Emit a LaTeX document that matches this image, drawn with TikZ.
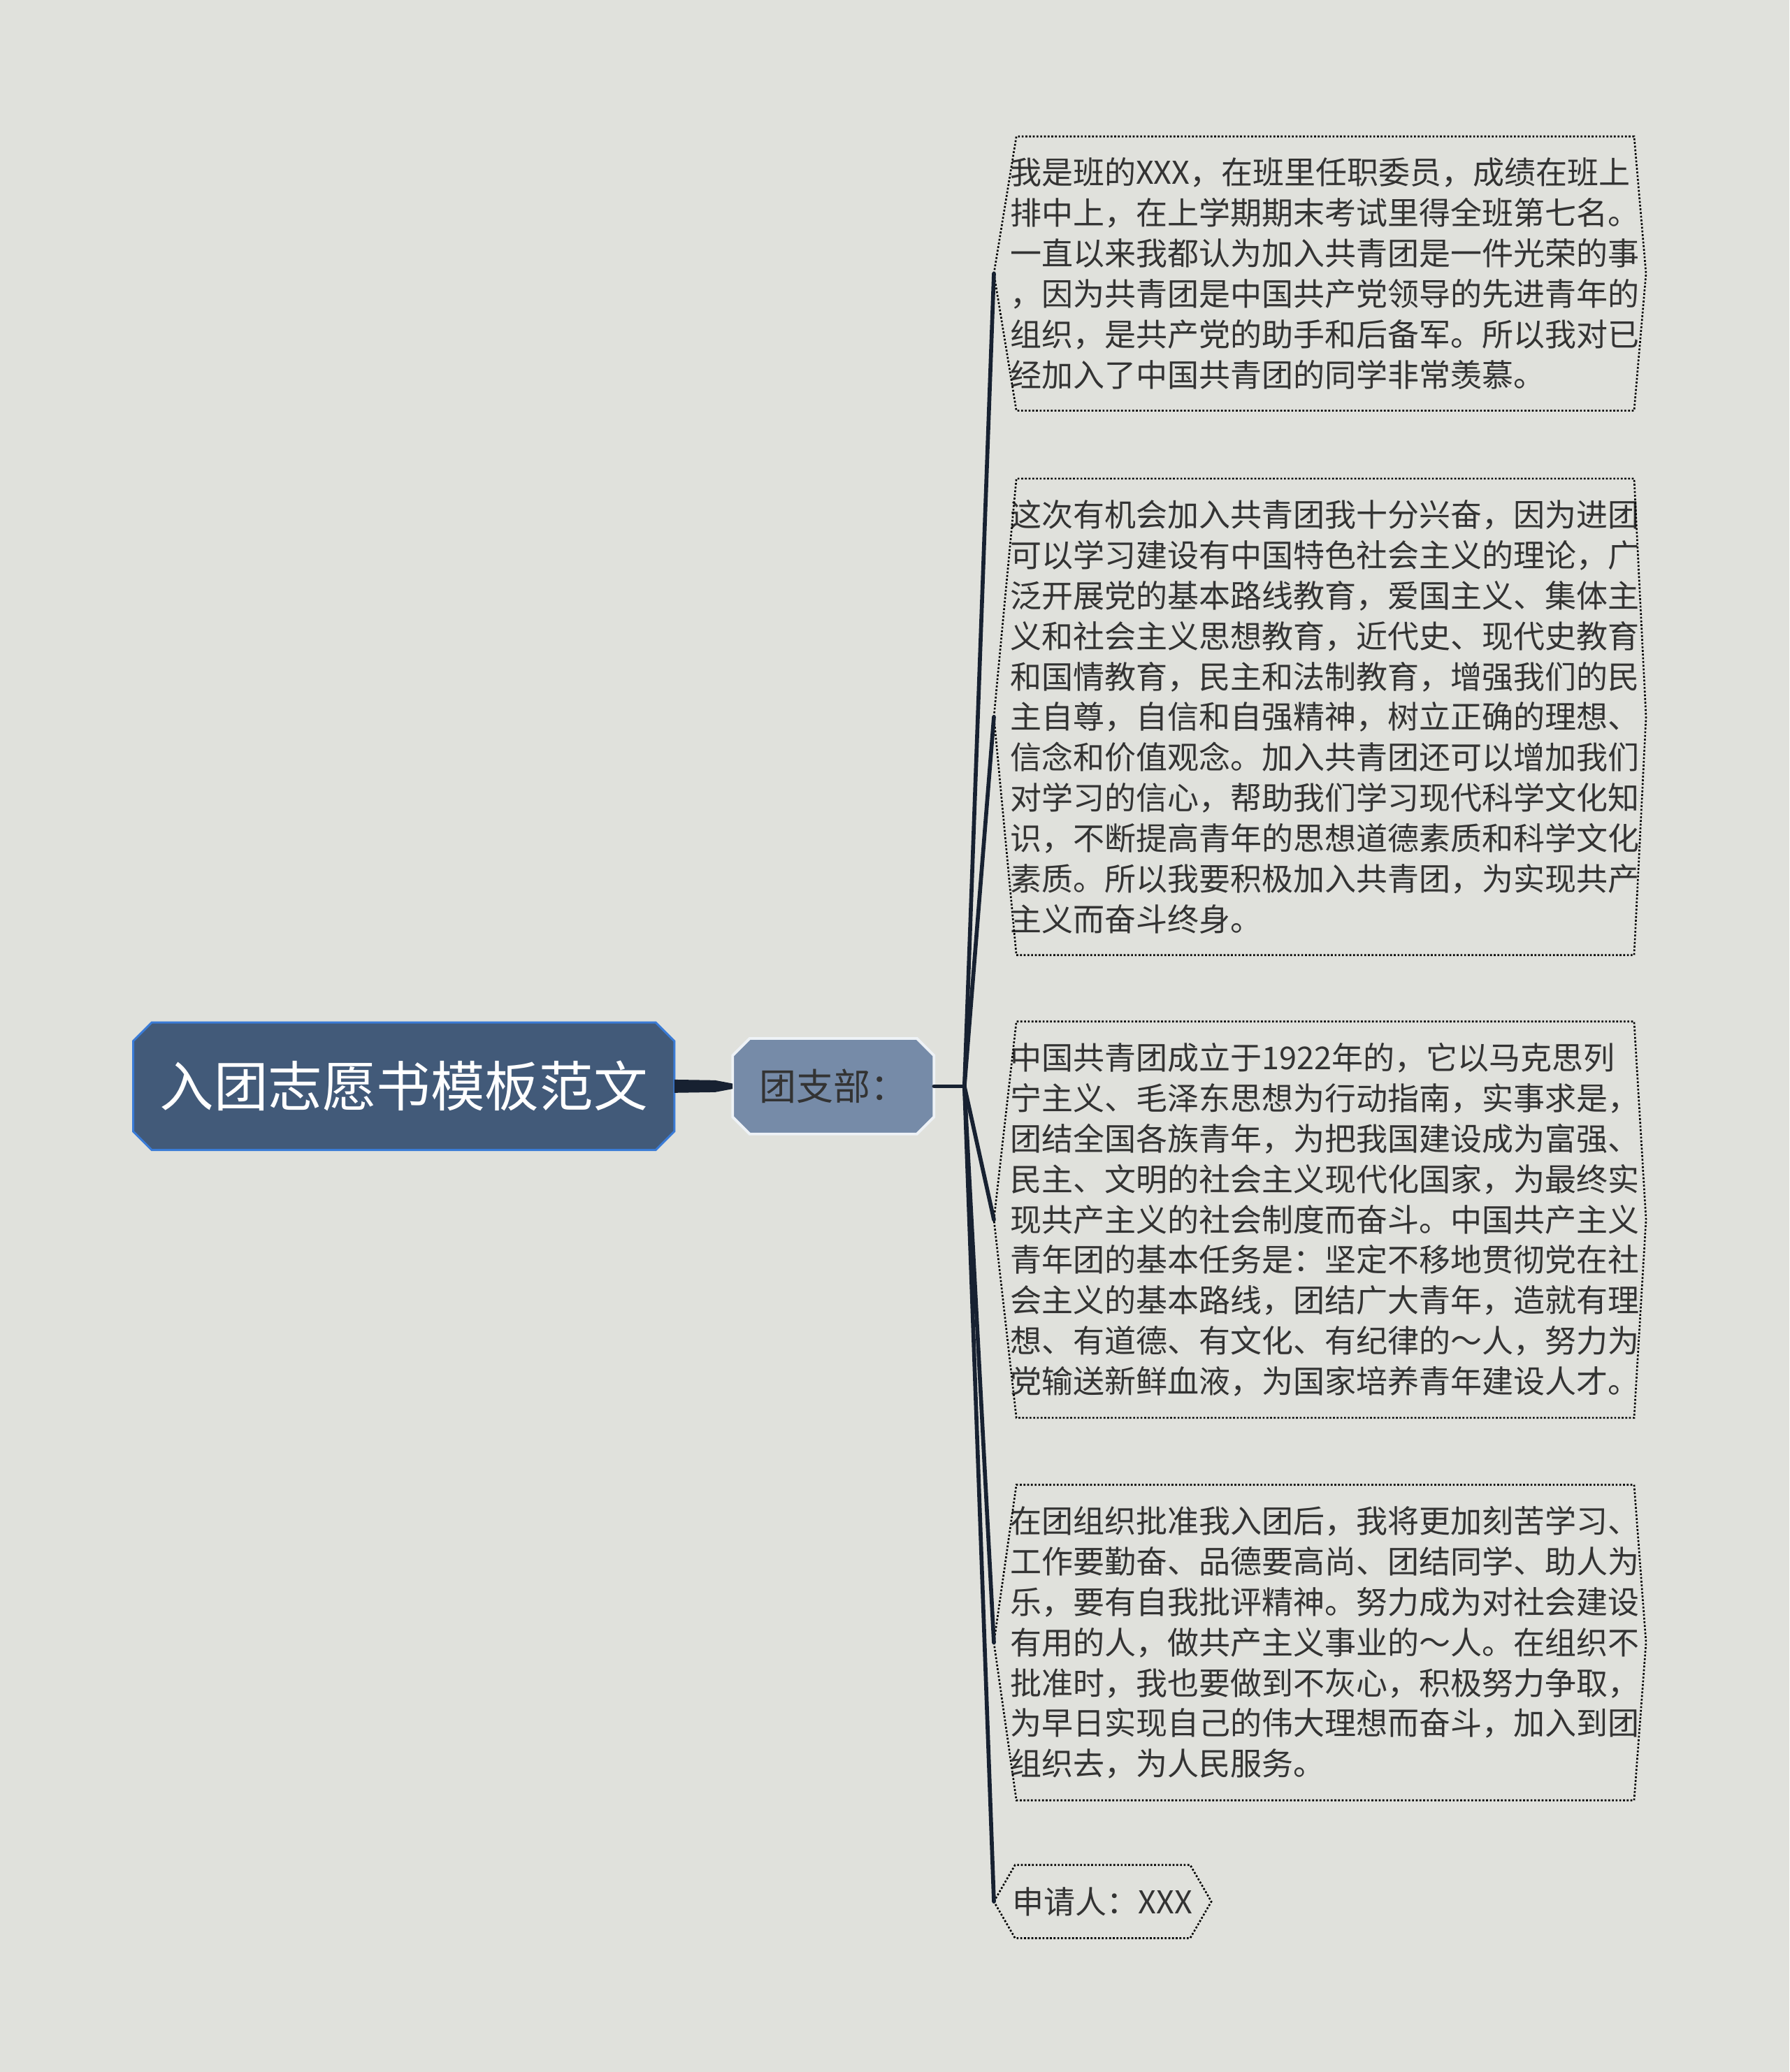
\documentclass[tikz,border=0pt]{standalone}
\usepackage{fontspec}
\setmainfont{Noto Sans CJK SC}
\usepackage{tikz}
\usetikzlibrary{backgrounds}
\usetikzlibrary{positioning,calc}
\definecolor{paper}{HTML}{E0E1DC}
\definecolor{rootfill}{HTML}{425A79}
\definecolor{rootline}{HTML}{3A7BD6}
\definecolor{subfill}{HTML}{768BA8}
\definecolor{subline}{HTML}{EEF2F6}
\definecolor{ink}{HTML}{333333}
\definecolor{branch}{HTML}{172131}
\tikzstyle{topic}=[text=white,inner sep=0pt,minimum width=409pt,minimum height=96pt,
  font=\fontsize{41}{41}\selectfont]
\tikzstyle{subtopic}=[text=ink,inner sep=0pt,minimum width=152pt,minimum height=72pt,
  font=\fontsize{28}{28}\selectfont]
\tikzstyle{topicshape}=[draw=rootline,line width=1.6pt,fill=rootfill]
\tikzstyle{subshape}=[draw=subline,line width=2pt,fill=subfill]
\tikzstyle{leaf}=[anchor=west,text=ink,text width=469pt,align=left,inner xsep=12pt,inner ysep=16pt,
  font=\fontsize{23.8}{30.6}\selectfont]
\tikzstyle{shortleaf}=[anchor=west,text=ink,inner xsep=14pt,minimum height=55pt,
  font=\fontsize{23.8}{30.6}\selectfont]
\tikzstyle{leafline}=[draw=black,line width=1.4pt,dash pattern=on 1.4pt off 1.4pt]
\tikzstyle{branchline}=[draw=branch,line width=3pt,line cap=round]

\begin{document}
\begin{tikzpicture}[x=1pt,y=-1pt]
	\useasboundingbox (0,0) rectangle (1354,1568);
	
	\node[topic] (root) at (305.5,822) {入团志愿书模板范文};
	\node[subtopic] (sub) at (630.5,822) {团支部：};
	
	\node[leaf] (l1) at (752,207) {我是班的XXX，在班里任职委员，成绩在班上\\
	排中上，在上学期期末考试里得全班第七名。\\
	一直以来我都认为加入共青团是一件光荣的事\\
	，因为共青团是中国共产党领导的先进青年的\\
	组织，是共产党的助手和后备军。所以我对已\\
	经加入了中国共青团的同学非常羡慕。};
	\node[leaf] (l2) at (752,542.5) {这次有机会加入共青团我十分兴奋，因为进团\\
	可以学习建设有中国特色社会主义的理论，广\\
	泛开展党的基本路线教育，爱国主义、集体主\\
	义和社会主义思想教育，近代史、现代史教育\\
	和国情教育，民主和法制教育，增强我们的民\\
	主自尊，自信和自强精神，树立正确的理想、\\
	信念和价值观念。加入共青团还可以增加我们\\
	对学习的信心，帮助我们学习现代科学文化知\\
	识，不断提高青年的思想道德素质和科学文化\\
	素质。所以我要积极加入共青团，为实现共产\\
	主义而奋斗终身。};
	\node[leaf] (l3) at (752,923) {中国共青团成立于1922年的，它以马克思列\\
	宁主义、毛泽东思想为行动指南，实事求是，\\
	团结全国各族青年，为把我国建设成为富强、\\
	民主、文明的社会主义现代化国家，为最终实\\
	现共产主义的社会制度而奋斗。中国共产主义\\
	青年团的基本任务是：坚定不移地贯彻党在社\\
	会主义的基本路线，团结广大青年，造就有理\\
	想、有道德、有文化、有纪律的～人，努力为\\
	党输送新鲜血液，为国家培养青年建设人才。};
	\node[leaf] (l4) at (752,1243) {在团组织批准我入团后，我将更加刻苦学习、\\
	工作要勤奋、品德要高尚、团结同学、助人为\\
	乐，要有自我批评精神。努力成为对社会建设\\
	有用的人，做共产主义事业的～人。在组织不\\
	批准时，我也要做到不灰心，积极努力争取，\\
	为早日实现自己的伟大理想而奋斗，加入到团\\
	组织去，为人民服务。};
	\node[shortleaf] (l5) at (752,1439) {申请人：XXX};
	
	% page and filled shapes behind the text
	\begin{scope}[on background layer]
	\fill[paper] (0,0) rectangle (1354,1568);
	\foreach \n/\s/\c in {root/topicshape/14,sub/subshape/13}
	\path[\s] ([xshift=\c]\n.north west) -- ([xshift=-\c]\n.north east)
	-- ([yshift=-\c]\n.north east) -- ([yshift=\c]\n.south east)
	-- ([xshift=-\c]\n.south east) -- ([xshift=\c]\n.south west)
	-- ([yshift=\c]\n.south west) -- ([yshift=-\c]\n.north west) -- cycle;
	\end{scope}
	
	% dotted outlines
	\foreach \n/\dl/\dr in {l1/17/9,l2/17/9,l3/17/9,l4/17/9,l5/16/16}
	\path[leafline] (\n.west) -- ([xshift=\dl]\n.north west) -- ([xshift=-\dr]\n.north east)
	-- (\n.east) -- ([xshift=-\dr]\n.south east) -- ([xshift=\dl]\n.south west) -- cycle;
	
	% connectors
	\fill[branch] ([yshift=5pt]root.east) -- ($(root.east)!0.7!(sub.west)+(0,-4.5)$)
	-- ([yshift=2pt]sub.west) -- ([yshift=-2pt]sub.west)
	-- ($(root.east)!0.7!(sub.west)+(0,4.5)$) -- ([yshift=-5pt]root.east) -- cycle;
	\coordinate (hub) at ($(sub.east)+(23,0)$);
	\path[branchline] (sub.east) -- (hub);
	\foreach \n in {l1,l2,l3,l4,l5}
	\path[branchline] (hub) -- (\n.west);
	
\end{tikzpicture}
\end{document}
